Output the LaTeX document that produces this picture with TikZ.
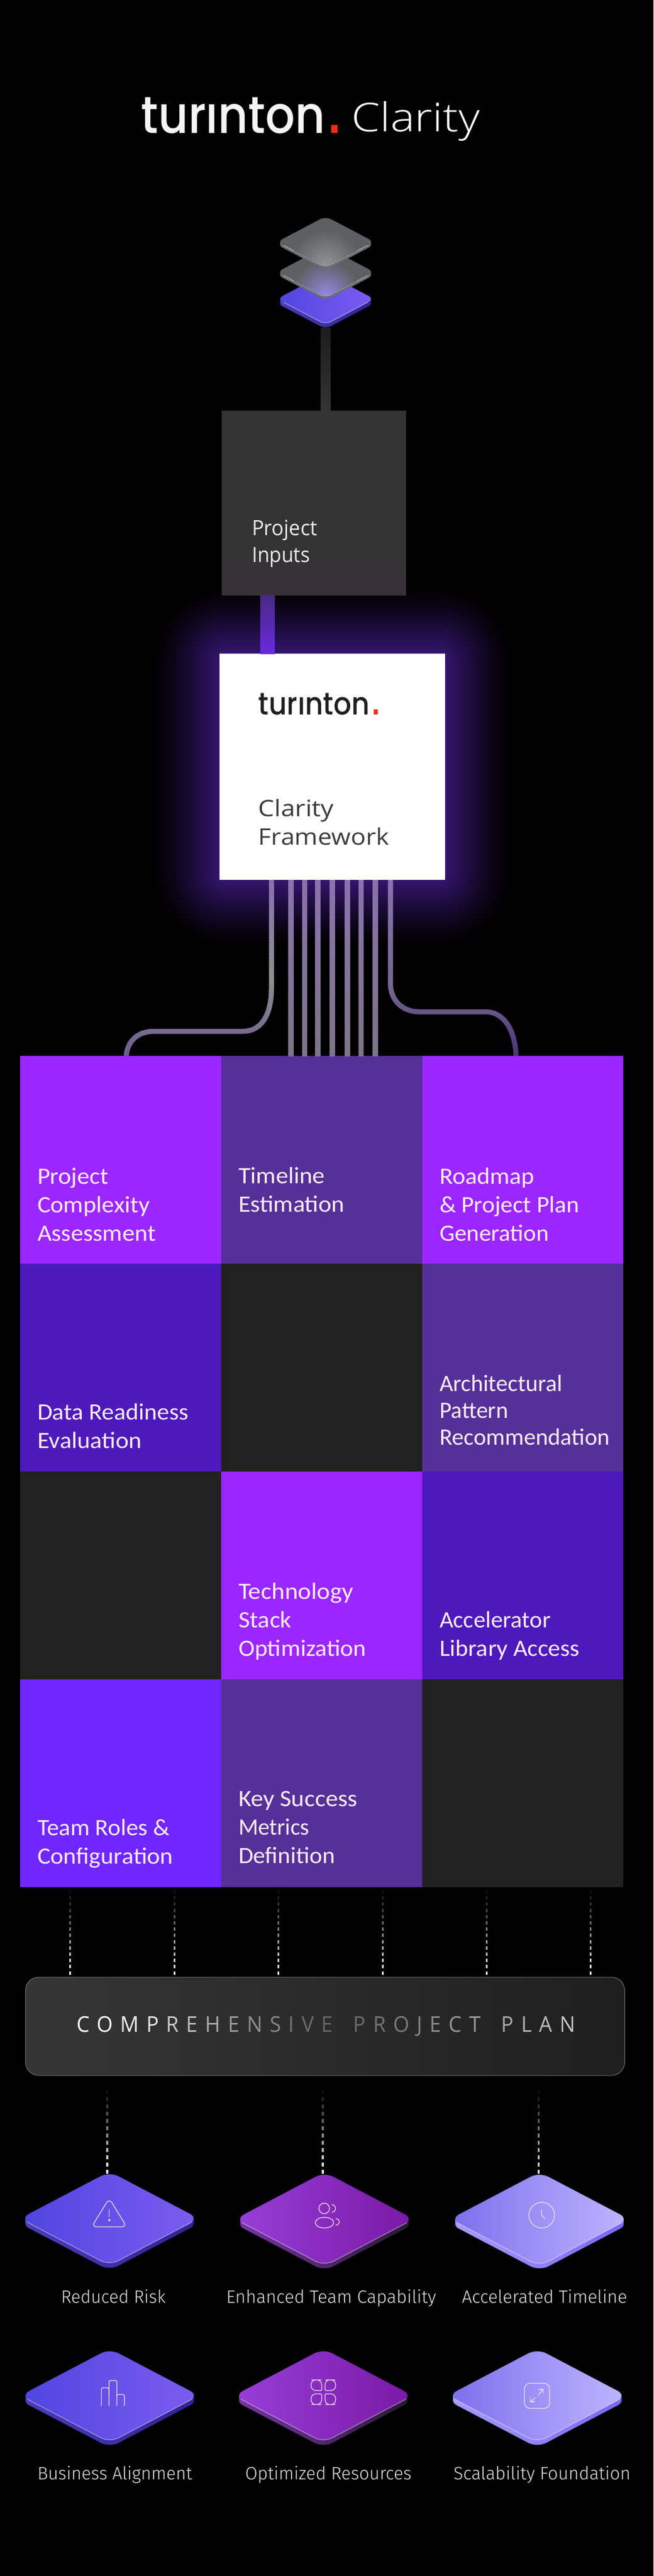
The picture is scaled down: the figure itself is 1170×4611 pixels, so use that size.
\documentclass[tikz,border=0pt]{standalone}
\usepackage{fontspec}
\usepackage{graphicx}
\usetikzlibrary{calc}
\newfontfamily\gridf{Carlito}
\newfontfamily\lightf{Fira Sans Light}
\newfontfamily\openf{Open Sans}
\newfontfamily\openl{Open Sans Light}
\newfontfamily\logof{Poppins Medium}
\newfontfamily\dotf{Liberation Sans}
\definecolor{cellA}{HTML}{9B26FF}
\definecolor{cellB}{HTML}{553099}
\definecolor{cellC}{HTML}{4E19BA}
\definecolor{cellD}{HTML}{212121}
\definecolor{cellE}{HTML}{6F26FF}
\definecolor{celltext}{HTML}{FBECF2}
\definecolor{logored}{HTML}{F03010}
\definecolor{glowc}{HTML}{34156F}
\definecolor{linePurple}{HTML}{8A72AD}
\definecolor{lineGray}{HTML}{8E8E8E}
\definecolor{lineEndL}{HTML}{6A5A90}
\definecolor{lineMidR}{HTML}{75688F}
\definecolor{lineEndR}{HTML}{4A3278}
\definecolor{lineBot}{HTML}{7B7585}
\newcommand\wt[2]{\resizebox{#1pt}{\height}{#2}}
\newcommand\LL[2]{{\color{white!#1!black}#2}\kern14pt}
\newcommand\rhomb[4]{({#1-#3/2},{#2+#4/2}) -- ({#1-#3},{#2}) -- ({#1},{#2-#4}) -- ({#1+#3},{#2}) -- ({#1},{#2+#4}) -- cycle}
\newcommand\isoplate[9]{%
  \foreach \o in {#6,...,1}{\shade[rounded corners=#5pt,#8] \rhomb{#1}{#2+\o}{#3}{#4};}
  \shade[rounded corners=#5pt,#7] \rhomb{#1}{#2}{#3}{#4};
  \begin{scope}
    \clip ({#1-#3},{#2+6}) rectangle ({#1+#3},{#2+#4+2});
    \draw[rounded corners=#5pt,#9] \rhomb{#1}{#2}{#3}{#4};
  \end{scope}}
\tikzset{
  cell/.style={minimum width=360pt,minimum height=372pt,inner sep=0pt,outer sep=0pt,draw=none},
  celltxt/.style={anchor=base west,align=left,inner sep=0pt,outer sep=0pt,text=celltext,font=\gridf\fontsize{42}{51}\selectfont},
  benefit/.style={anchor=base,inner sep=0pt,outer sep=0pt,text=white!88!black,font=\lightf\fontsize{32}{38}\selectfont},
  dropline/.style={line width=9pt,color=lineGray},
  dashseg/.style={line width=3pt},
  iconline/.style={line width=1.3pt,color=white!88!violet,line join=round,line cap=round},
  hlw/.style={color=white,opacity=.42,line width=1.4pt},
  faceBlue/.style={left color=bluL,right color=bluR},
  sideBlue/.style={left color=bluSL,middle color=bluSM,right color=bluSR},
  facePur/.style={left color=purL,right color=purR},
  sidePur/.style={left color=purSL,middle color=purSM,right color=purSR},
  faceLav/.style={left color=lavL,middle color=lavM,right color=lavR},
  sideLav/.style={left color=lavSL,middle color=lavSM,right color=lavSR}
}
\definecolor{bluL}{HTML}{4F45DF}\definecolor{bluR}{HTML}{7D5CF0}
\definecolor{bluSL}{HTML}{4A3FBC}\definecolor{bluSM}{HTML}{7A60EE}\definecolor{bluSR}{HTML}{2F2290}
\definecolor{purL}{HTML}{963FD8}\definecolor{purR}{HTML}{7A18A5}
\definecolor{purSL}{HTML}{7A35A8}\definecolor{purSM}{HTML}{AD5CE8}\definecolor{purSR}{HTML}{241A30}
\definecolor{lavL}{HTML}{7D6EEC}\definecolor{lavM}{HTML}{9C90F6}\definecolor{lavR}{HTML}{BDB6FF}
\definecolor{lavSL}{HTML}{A89CFF}\definecolor{lavSM}{HTML}{7F6CF5}\definecolor{lavSR}{HTML}{7766F0}
\definecolor{gface}{HTML}{5E5F63}
\definecolor{gside}{HTML}{9A9C9E}
\begin{document}
\begin{tikzpicture}[x=1pt,y=-1pt]
\useasboundingbox (0,0) rectangle (1170,4611);
\fill[black] (0,0) rectangle (1170,4611);

% title
\node[anchor=base west,inner sep=0pt,text=white!96!black,font=\logof\fontsize{93}{100}\selectfont] (logotop) at (252,238)
  {\wt{364}{tur\i nton{\dotf\fontsize{135}{135}\selectfont\color{logored}.}}};
\node[anchor=base west,inner sep=0pt,text=white,font=\openl\fontsize{71}{80}\selectfont] (claritytop) at (629,236) {\wt{230}{Clarity}};

% glow round the framework box
\foreach \i in {120,118,...,1}{
  \pgfmathsetmacro\p{100*(1-\i/120)^1.25}
  \pgfmathsetmacro\r{\i+12}
  \fill[color=glowc!\p!black,rounded corners=\r pt] ({393-\i},{1170-\i}) rectangle ({797+\i},{1575+\i});
}

% stack icon stem
\coordinate (stackfoot) at (583,586);
\node[minimum width=330pt,minimum height=330pt,inner sep=0pt,outer sep=0pt,fill=white!20!black] (inputs) at (562,900) {};
\shade[top color=white!20!black,bottom color=white!20!black!93!violet] (397,1000) rectangle (727,1065);
\draw[line width=18pt,color=white!16!black] (stackfoot) -- (inputs.north -| stackfoot);
\shade[top color=white!11!black,bottom color=white!20!black] ($(stackfoot)+(-9,0)$) rectangle ($(inputs.north -| stackfoot)+(9,0)$);

% stack of plates
\isoplate{583}{535}{87}{45.7}{11}{8}{faceBlue}{left color=bluSL,middle color=bluSM,right color=bluSR}{hlw}
\isoplate{583}{487}{87}{45.7}{11}{5}{left color=gface,right color=gface}{left color=gside!70!black,middle color=lavM,right color=gside!70!black}{hlw}
\begin{scope}
  \clip[rounded corners=11pt] \rhomb{583}{487}{87}{45.7};
  \shade[inner color=lavM!85!gface,outer color=gface] (583,528) circle (62pt);
\end{scope}
\isoplate{583}{433}{87}{45.7}{11}{5}{left color=gface,right color=gface}{left color=gside!70!black,middle color=gside,right color=gside!70!black}{hlw}
\begin{scope}
  \clip[rounded corners=11pt] \rhomb{583}{433}{87}{45.7};
  \shade[inner color=gside!85!gface,outer color=gface] (583,474) circle (62pt);
\end{scope}

% project inputs text
\node[anchor=base west,align=left,inner sep=0pt,text=white!92!black,font=\openf\fontsize{37.8}{48}\selectfont] (inputstxt) at (451,1006)
  {\wt{117}{Project}\\\wt{104}{Inputs}};

% framework box
\node[minimum width=404pt,minimum height=405pt,inner sep=0pt,outer sep=0pt,fill=white] (frame) at (595,1372.5) {};
\coordinate (inlet) at (479,1065);
\draw[line width=26pt,color=cellB] (inputs.south -| inlet) -- (frame.north -| inlet);
\shade[top color=cellB!85!black,bottom color=cellE!70!cellB] ($(inputs.south -| inlet)+(-13,0)$) rectangle ($(frame.north -| inlet)+(13,0)$);
\node[anchor=base west,inner sep=0pt,text=white!12!black,font=\logof\fontsize{56}{60}\selectfont] (logoframe) at (462.5,1279)
  {\wt{221}{tur\i nton{\dotf\fontsize{87}{87}\selectfont\color{logored}.}}};
\node[anchor=base west,align=left,inner sep=0pt,text=white!23!black,font=\openf\fontsize{40.6}{51}\selectfont] (frametxt) at (462.5,1512)
  {\wt{135}{Clarity}\\\wt{234}{Framework}};

% grid
\foreach \nm/\c/\cx/\cy in {c11/cellA/216/2076,c12/cellB/576/2076,c13/cellA/936/2076,
  c21/cellC/216/2448,c22/cellD/576/2448,c23/cellB/936/2448,
  c31/cellD/216/2820,c32/cellA/576/2820,c33/cellC/936/2820,
  c41/cellE/216/3192,c42/cellB/576/3192,c43/cellD/936/3192}{
  \node[cell,fill=\c] (\nm) at (\cx,\cy) {};
}
\node[celltxt] (t11) at (67,2221) {\wt{127}{Project}\\\wt{201.5}{Complexity}\\\wt{212}{Assessment}};
\node[celltxt] (t12) at (427,2169) {\wt{155}{Timeline}\\\wt{190}{Estimation}};
\node[celltxt] (t13) at (787,2221) {\wt{170}{Roadmap}\\\wt{250}{\& Project Plan}\\\wt{196}{Generation}};
\node[celltxt] (t21) at (67,2592) {\wt{271}{Data Readiness}\\\wt{187}{Evaluation}};
\node[celltxt,font=\gridf\fontsize{42}{48}\selectfont] (t23) at (787,2586) {\wt{220}{Architectural}\\\wt{123}{Pattern}\\\wt{305}{Recommendation}};
\node[celltxt] (t32) at (427,2964) {\wt{206}{Technology}\\\wt{95}{Stack}\\\wt{229}{Optimization}};
\node[celltxt] (t33) at (787,2964) {\wt{199}{Accelerator}\\\wt{251}{Library Access}};
\node[celltxt] (t41) at (67,3336) {\wt{237}{Team Roles \&}\\\wt{243}{Configuration}};
\node[celltxt] (t42) at (427,3335) {\wt{213}{Key Success}\\\wt{127}{Metrics}\\\wt{173}{Definition}};

% straight connectors from the framework into the grid
\foreach \n/\X in {2/521,3/545.5,4/569,5/595,6/622,7/646.5,8/672}{
  \coordinate (v\n) at (\X,0);
  \draw[dropline] (frame.south -| v\n) -- (c12.north -| v\n);
  \shade[top color=linePurple,middle color=lineGray,bottom color=lineBot] ($(frame.south -| v\n)+(-4.5,0)$) rectangle ($(c12.north -| v\n)+(4.5,0)$);
}
% the two routed connectors, coloured band by band
\coordinate (lefttop) at (486,1575);
\coordinate (leftend) at (226,1890);
\coordinate (righttop) at (699,1575);
\coordinate (rightend) at (924,1890);
\foreach \y in {1575,1581,...,1889}{
  \pgfmathsetmacro\pa{max(0,min(100,(1750-\y)/175*100))}
  \pgfmathsetmacro\pb{max(0,min(100,(\y-1750)/140*100))}
  \pgfmathsetmacro\pc{max(0,min(100,(1760-\y)/185*100))}
  \pgfmathsetmacro\pd{max(0,min(100,(\y-1760)/130*100))}
  \colorlet{bandl}{linePurple!\pa!lineGray}
  \colorlet{bandL}{lineEndL!\pb!bandl}
  \colorlet{bandr}{linePurple!\pc!lineMidR}
  \colorlet{bandR}{lineEndR!\pd!bandr}
  \begin{scope}
    \clip (0,\y) rectangle (1170,\y+7);
    \draw[line width=9pt,color=bandL] (lefttop) -- (486,1770) .. controls (486,1820) and (465,1846) .. (436,1846) -- (276,1846) .. controls (245,1846) and (228,1865) .. (leftend);
    \draw[line width=9pt,color=bandR] (righttop) -- (699,1760) .. controls (699,1790) and (720,1811) .. (750,1811) -- (869,1811) .. controls (900,1811) and (922,1840) .. (rightend);
  \end{scope}
}

% plan box
\node[minimum width=1073pt,minimum height=176pt,inner sep=0pt,outer sep=0pt,rounded corners=24pt,
  left color=white!21!black,middle color=white!19!black,right color=white!12!black,draw=white!45!black!95!red,line width=1pt] (plan) at (582,3627) {};
\node[inner sep=0pt,font=\openf\fontsize{39}{46}\selectfont] (plantxt) at (583.5,3627)
  {\wt{893}{\LL{100}{C}\LL{100}{O}\LL{95}{M}\LL{90}{P}\LL{80}{R}\LL{75}{E}\LL{68}{H}\LL{62}{E}\LL{56}{N}\LL{52}{S}\LL{46}{I}\LL{42}{V}\LL{40}{E}\kern25pt\LL{42}{P}\LL{45}{R}\LL{48}{O}\LL{52}{J}\LL{55}{E}\LL{58}{C}\LL{62}{T}\kern25pt\LL{66}{P}\LL{70}{L}\LL{74}{A}{\color{white!78!black}N}}};

% dashed connectors, grid to plan
\foreach \n/\X in {1/125,2/312,3/498.5,4/685,5/871.6,6/1057.5}{
  \coordinate (ua\n) at (\X,3383);
  \foreach \i in {0,...,13}{
    \pgfmathsetmacro\p{6+89*\i/13}
    \draw[dashseg,color=white!\p!black] ($(ua\n)+(0,{11.2*\i})$) -- ($(ua\n)+(0,{11.2*\i+6})$);
  }
}
% dashed connectors, plan to plates
\foreach \n/\X in {1/192,2/578,3/964.5}{
  \coordinate (la\n) at (\X,3741);
  \foreach \i in {0,...,11}{
    \pgfmathsetmacro\p{6+89*\i/11}
    \draw[dashseg,line width=3.6pt,color=white!\p!black] ($(la\n)+(0,{13*\i})$) -- ($(la\n)+(0,{13*\i+6.5})$);
  }
}

% benefit plates
\isoplate{196}{3971}{160}{84}{18}{9}{faceBlue}{sideBlue}{hlw}
\isoplate{581}{3972}{160}{84}{18}{9}{facePur}{sidePur}{hlw}
\isoplate{966}{3972}{160}{84}{18}{9}{faceLav}{sideLav}{hlw}
\isoplate{196.5}{4288}{160}{84}{18}{9}{faceBlue}{sideBlue}{hlw}
\isoplate{579}{4288}{160}{84}{18}{9}{facePur}{sidePur}{hlw}
\isoplate{962}{4288}{160}{84}{18}{9}{faceLav}{sideLav}{hlw}

% warning icon
\draw[iconline,rounded corners=9pt] (195.6,3935) -- (227,3986) -- (164,3986) -- cycle;
\draw[iconline] (195.6,3955) -- (195.6,3968);
\fill[white!88!violet] (195.6,3974) circle (2pt);
% team icon
\draw[iconline] (580.5,3953) circle[x radius=9.5pt,y radius=9.5pt];
\draw[iconline] (581,3978.5) circle[x radius=16.5pt,y radius=9.5pt];
\draw[iconline] (594.5,3946) .. controls (603,3948) and (603,3958) .. (594.5,3960);
\draw[iconline] (601.5,3971) .. controls (610,3973) and (610,3981) .. (601.5,3983);
% clock icon
\draw[iconline] (970,3965) circle[x radius=23pt,y radius=23pt];
\draw[iconline] (969.5,3956) -- (969.5,3965.3) -- (975.7,3971);
% bars icon
\draw[iconline,rounded corners=3pt] (181.4,4306) -- (181.4,4274) -- (195.2,4274) -- (195.2,4290);
\draw[iconline,rounded corners=3pt] (195.2,4306) -- (195.2,4261) -- (209.3,4261) -- (209.3,4290);
\draw[iconline,rounded corners=3pt] (209.3,4306) -- (209.3,4286) -- (222.7,4286) -- (222.7,4306);
\draw[iconline] (195.2,4285) -- (195.2,4306);
\draw[iconline] (209.3,4280) -- (209.3,4306);
% petals icon
\foreach \xa/\xb/\ya/\yb/\cornerx/\cornery in {557/576/4260/4279/1/1,582/601/4260/4279/0/1,557/576/4285/4304/1/0,582/601/4285/4304/0/0}{
  \pgfmathsetmacro\ix{\cornerx>0?\xb:\xa}
  \pgfmathsetmacro\iy{\cornery>0?\yb:\ya}
  \pgfmathsetmacro\ox{\cornerx>0?\xa:\xb}
  \pgfmathsetmacro\oy{\cornery>0?\ya:\yb}
  \draw[iconline,rounded corners=8.5pt] ($(\ix,\oy)!.5!(\ox,\oy)$) -- (\ox,\oy) -- (\ox,\iy) [rounded corners=2pt] -- (\ix,\iy) [rounded corners=8.5pt] -- (\ix,\oy) -- cycle;
}
% expand icon
\draw[iconline,rounded corners=10pt] (939,4266) rectangle (984,4311);
\draw[iconline] (964,4287) -- (972.6,4277);
\draw[iconline] (965,4277) -- (972.6,4277) -- (972.6,4284);
\draw[iconline] (958.4,4292) -- (949.6,4299);
\draw[iconline] (949.6,4292) -- (949.6,4299) -- (957,4299);

% benefit labels
\node[benefit] (b1) at (203,4122) {\wt{187.5}{Reduced Risk}};
\node[benefit] (b2) at (593,4122) {\wt{376}{Enhanced Team Capability}};
\node[benefit] (b3) at (975,4122) {\wt{296}{Accelerated Timeline}};
\node[benefit] (b4) at (205.7,4438) {\wt{277}{Business Alignment}};
\node[benefit] (b5) at (588,4438) {\wt{298}{Optimized Resources}};
\node[benefit] (b6) at (970.5,4438) {\wt{317}{Scalability Foundation}};
\end{tikzpicture}
\end{document}
